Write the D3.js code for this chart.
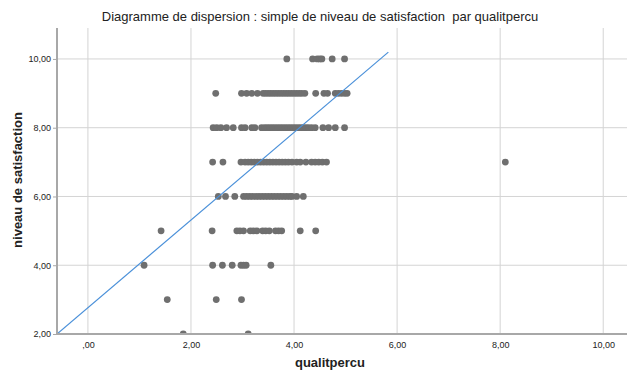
<!DOCTYPE html>
<html>
<head>
<meta charset="utf-8">
<script src="https://cdn.jsdelivr.net/npm/d3@7"></script>
<style>
  body { margin: 0; background: #fff; }
  text { font-family: "Liberation Sans", Arial, sans-serif; fill: #222; }
</style>
</head>
<body>
<div id="chart"></div>
<script>
// qualitpercu (x) and niveau de satisfaction (y), read row by row
var row10 = [3.86, 4.36, 4.45, 4.50, 4.54, 4.74, 4.98];
var row9 = [2.48, 2.98, 3.08, 3.18, 3.29, 3.40, 3.45, 3.50, 3.55, 3.60, 3.65, 3.70, 3.75, 3.80, 3.85, 3.90, 3.95, 4.00, 4.05, 4.10, 4.15, 4.21, 4.42, 4.58, 4.65, 4.80, 4.86, 4.92, 4.98, 5.03];
var row8 = [2.43, 2.50, 2.58, 2.69, 2.82, 2.98, 3.05, 3.18, 3.24, 3.37, 3.43, 3.48, 3.53, 3.58, 3.63, 3.68, 3.73, 3.78, 3.83, 3.88, 3.93, 3.98, 4.03, 4.08, 4.13, 4.18, 4.23, 4.28, 4.34, 4.41, 4.56, 4.67, 4.80, 4.98];
var row7 = [2.42, 2.62, 2.97, 3.05, 3.11, 3.17, 3.23, 3.29, 3.35, 3.41, 3.47, 3.53, 3.59, 3.65, 3.71, 3.77, 3.83, 3.89, 3.96, 4.05, 4.12, 4.23, 4.34, 4.41, 4.48, 4.55, 4.63, 8.10];
var row6 = [2.53, 2.67, 2.85, 3.02, 3.08, 3.14, 3.20, 3.26, 3.32, 3.38, 3.44, 3.50, 3.56, 3.62, 3.68, 3.74, 3.80, 3.86, 3.92, 3.96, 4.05, 4.18];
var row5 = [1.42, 2.41, 2.89, 2.95, 3.02, 3.15, 3.21, 3.28, 3.39, 3.45, 3.52, 3.64, 3.70, 3.76, 4.12, 4.42];
var row4 = [1.09, 2.42, 2.61, 2.80, 2.97, 3.02, 3.07, 3.55];
var row3 = [1.54, 2.49, 2.98];
var row2 = [1.85, 3.11];

var satisfLevels = [10, 9, 8, 7, 6, 5, 4, 3, 2];
var rows = [row10, row9, row8, row7, row6, row5, row4, row3, row2];

var xTicks = [0, 2, 4, 6, 8, 10];
var xTickLabels = [",00", "2,00", "4,00", "6,00", "8,00", "10,00"];
var yTicks = [2, 4, 6, 8, 10];
var yTickLabels = ["2,00", "4,00", "6,00", "8,00", "10,00"];

// linear fit line
var fitIntercept = 2.765, fitSlope = 1.275;
var fitRange = [-0.6, 5.83];

var data = [];
rows.forEach(function(r, i) {
    r.forEach(function(q) { data.push({ x: q, y: satisfLevels[i] }); });
});

var W = 627, H = 373;
var margin = { top: 28, right: 0, bottom: 39, left: 57 };

var svg = d3.select("#chart").append("svg")
    .attr("width", W)
    .attr("height", H);

var x = d3.scaleLinear().domain([-0.6, 10.5]).range([margin.left, 629]);
var y = d3.scaleLinear().domain([2, 10.9]).range([H - margin.bottom, margin.top]);

var plotTop = y.range()[1], plotBottom = y.range()[0];

svg.append("defs").append("clipPath").attr("id", "clip")
    .append("rect")
    .attr("x", margin.left).attr("y", plotTop)
    .attr("width", W - margin.left).attr("height", plotBottom - plotTop);

// grid
svg.append("g").selectAll("line.vg")
    .data(xTicks).enter().append("line")
    .attr("x1", function(d) { return x(d); })
    .attr("x2", function(d) { return x(d); })
    .attr("y1", plotTop).attr("y2", plotBottom)
    .attr("stroke", "#d4d4d4").attr("stroke-width", 1);

svg.append("g").selectAll("line.hg")
    .data(yTicks.slice(1)).enter().append("line")
    .attr("y1", function(d) { return y(d); })
    .attr("y2", function(d) { return y(d); })
    .attr("x1", margin.left).attr("x2", W)
    .attr("stroke", "#d4d4d4").attr("stroke-width", 1);

// points
svg.append("g").attr("clip-path", "url(#clip)")
    .selectAll("circle")
    .data(data).enter().append("circle")
    .attr("cx", function(d) { return x(d.x); })
    .attr("cy", function(d) { return y(d.y); })
    .attr("r", 3.4)
    .style("fill", "#6f6f6f");

// fit line
svg.append("line")
    .attr("clip-path", "url(#clip)")
    .attr("x1", x(fitRange[0]))
    .attr("y1", y(fitIntercept + fitSlope * fitRange[0]))
    .attr("x2", x(fitRange[1]))
    .attr("y2", y(fitIntercept + fitSlope * fitRange[1]))
    .attr("stroke", "#4a90d9")
    .attr("stroke-width", 1.2);

// axes
var xAxis = d3.axisBottom(x).tickValues(xTicks)
    .tickFormat(function(d, i) { return xTickLabels[i]; })
    .tickSize(0).tickPadding(8);
var gx = svg.append("g")
    .attr("transform", "translate(0," + plotBottom + ")")
    .call(xAxis);
gx.select(".domain").remove();
gx.selectAll("text").style("font-size", "9px").style("fill", "#222");

var yAxis = d3.axisLeft(y).tickValues(yTicks)
    .tickFormat(function(d, i) { return yTickLabels[i]; })
    .tickSize(4).tickPadding(2);
var gy = svg.append("g")
    .attr("transform", "translate(" + margin.left + ",0)")
    .call(yAxis);
gy.select(".domain").remove();
gy.selectAll(".tick line").attr("stroke", "#a8a8a8");
gy.selectAll("text").style("font-size", "9px").style("fill", "#222");

svg.append("line")
    .attr("x1", margin.left).attr("x2", W)
    .attr("y1", plotBottom).attr("y2", plotBottom)
    .attr("stroke", "#a8a8a8").attr("stroke-width", 2);
svg.append("line")
    .attr("x1", margin.left).attr("x2", margin.left)
    .attr("y1", plotTop).attr("y2", plotBottom + 1)
    .attr("stroke", "#a8a8a8").attr("stroke-width", 2);

// titles
svg.append("text")
    .attr("x", 320).attr("y", 21)
    .style("text-anchor", "middle")
    .style("font-size", "13px")
    .style("white-space", "pre")
    .text("Diagramme de dispersion : simple de niveau de satisfaction  par qualitpercu");

svg.append("text")
    .attr("x", 330).attr("y", 367)
    .style("text-anchor", "middle")
    .style("font-size", "13px")
    .style("font-weight", "bold")
    .text("qualitpercu");

svg.append("text")
    .attr("transform", "translate(22,180) rotate(-90)")
    .style("text-anchor", "middle")
    .style("font-size", "13px")
    .style("font-weight", "bold")
    .text("niveau de satisfaction");
</script>
</body>
</html>
